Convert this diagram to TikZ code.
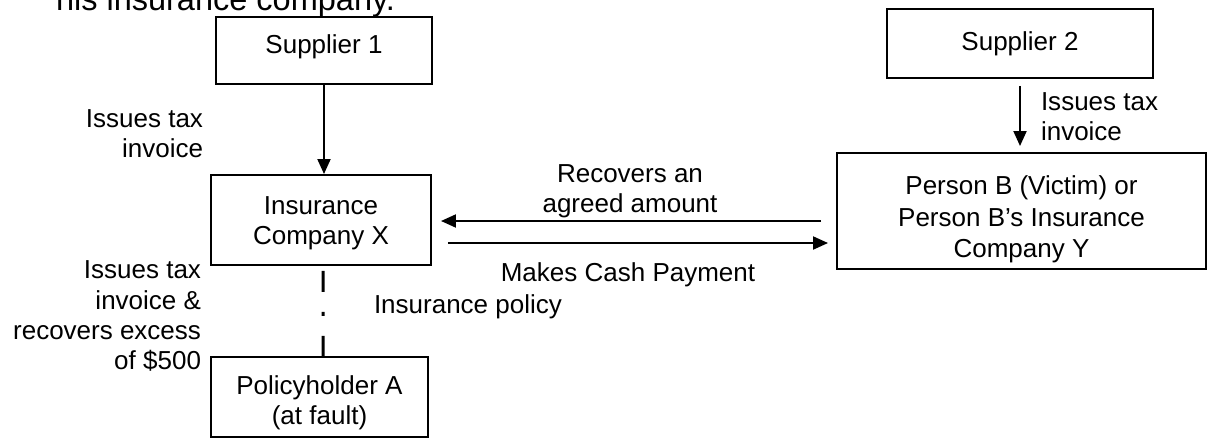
\documentclass[tikz,border=0pt]{standalone}
\usepackage{fontspec}
\setmainfont{Liberation Sans}
\usetikzlibrary{arrows.meta,positioning,calc}
\tikzset{
    party/.style={
        rectangle,
        draw=black,
        line width=0.04cm,
        fill=white,
        align=center,
        font=\fontsize{14.8pt}{17.1pt}\selectfont
    },
    flowlabel/.style={
        inner sep=0pt,
        font=\fontsize{14.8pt}{17.1pt}\selectfont
    }
}

\begin{document}
\begin{tikzpicture}[x=0.02cm, y=-0.02cm, line width=0.04cm, >={Triangle[length=0.3cm, width=0.26cm]}]

    % page size
    \useasboundingbox (0,0) rectangle (1212,440);

    % end of the sentence above, cut off by the page
    \node[anchor=base west, inner sep=0pt, font=\fontsize{18.5pt}{21pt}\selectfont] (intro) at (55,10) {his insurance company.};

    % Boxes
    \node[party, minimum width=4.32cm, minimum height=1.34cm, text depth=0.27cm] (sup1) at (324,50.5) {Supplier 1};
    \node[party, minimum width=4.4cm, minimum height=1.8cm] (insX) at (321,220) {\rule{0pt}{0.49cm}Insurance\\Company X};
    \node[party, minimum width=4.34cm, minimum height=1.6cm] (polA) at (319.5,397) {\rule{0pt}{0.62cm}Policyholder A\\(at fault)};
    \node[party, minimum width=5.32cm, minimum height=1.38cm] (sup2) at (1020,43.5) {Supplier 2};
    \node[party, minimum width=7.38cm, minimum height=2.32cm, font=\fontsize{14.8pt}{17.9pt}\selectfont] (perB) at (1021.5,211) {\rule{0pt}{0.72cm}Person B (Victim) or\\Person B’s Insurance\\Company Y};

    % Labels
    \node[flowlabel, align=right, anchor=east] (tax1) at (204,134) {Issues tax\\invoice};
    \node[flowlabel, align=right, anchor=east] (tax2) at (202,316) {Issues tax\\invoice \&\\recovers excess\\of \$500};
    \node[flowlabel, align=left, anchor=west] (policy) at (373,307) {Insurance policy};
    \node[flowlabel, align=center] (recov) at (630,191) {Recovers an\\agreed amount};
    \node[flowlabel, align=center] (pay) at (628,275) {Makes Cash Payment};
    \node[flowlabel, align=left, anchor=west] (tax3) at (1040,117) {Issues tax\\invoice};

    % Arrows
    \draw[->] (sup1.south) -- (sup1.south |- insX.north);
    \draw[->, shorten <=0.14cm, shorten >=0.12cm] (sup2.south) -- (sup2.south |- perB.north);
    \draw[->] ($(perB.west)+(-15,10)$) -- ($(insX.east)+(9,1)$);
    \draw[->] ($(insX.east)+(16,23)$) -- ($(perB.west)+(-8,32)$);

    % policy link
    \draw[line width=0.06cm, dash pattern=on 0.42cm off 0.4cm on 0.08cm off 0.4cm] ($(insX.south)+(2,5)$) -- ($(polA.north)+(3.5,0)$);

\end{tikzpicture}
\end{document}
